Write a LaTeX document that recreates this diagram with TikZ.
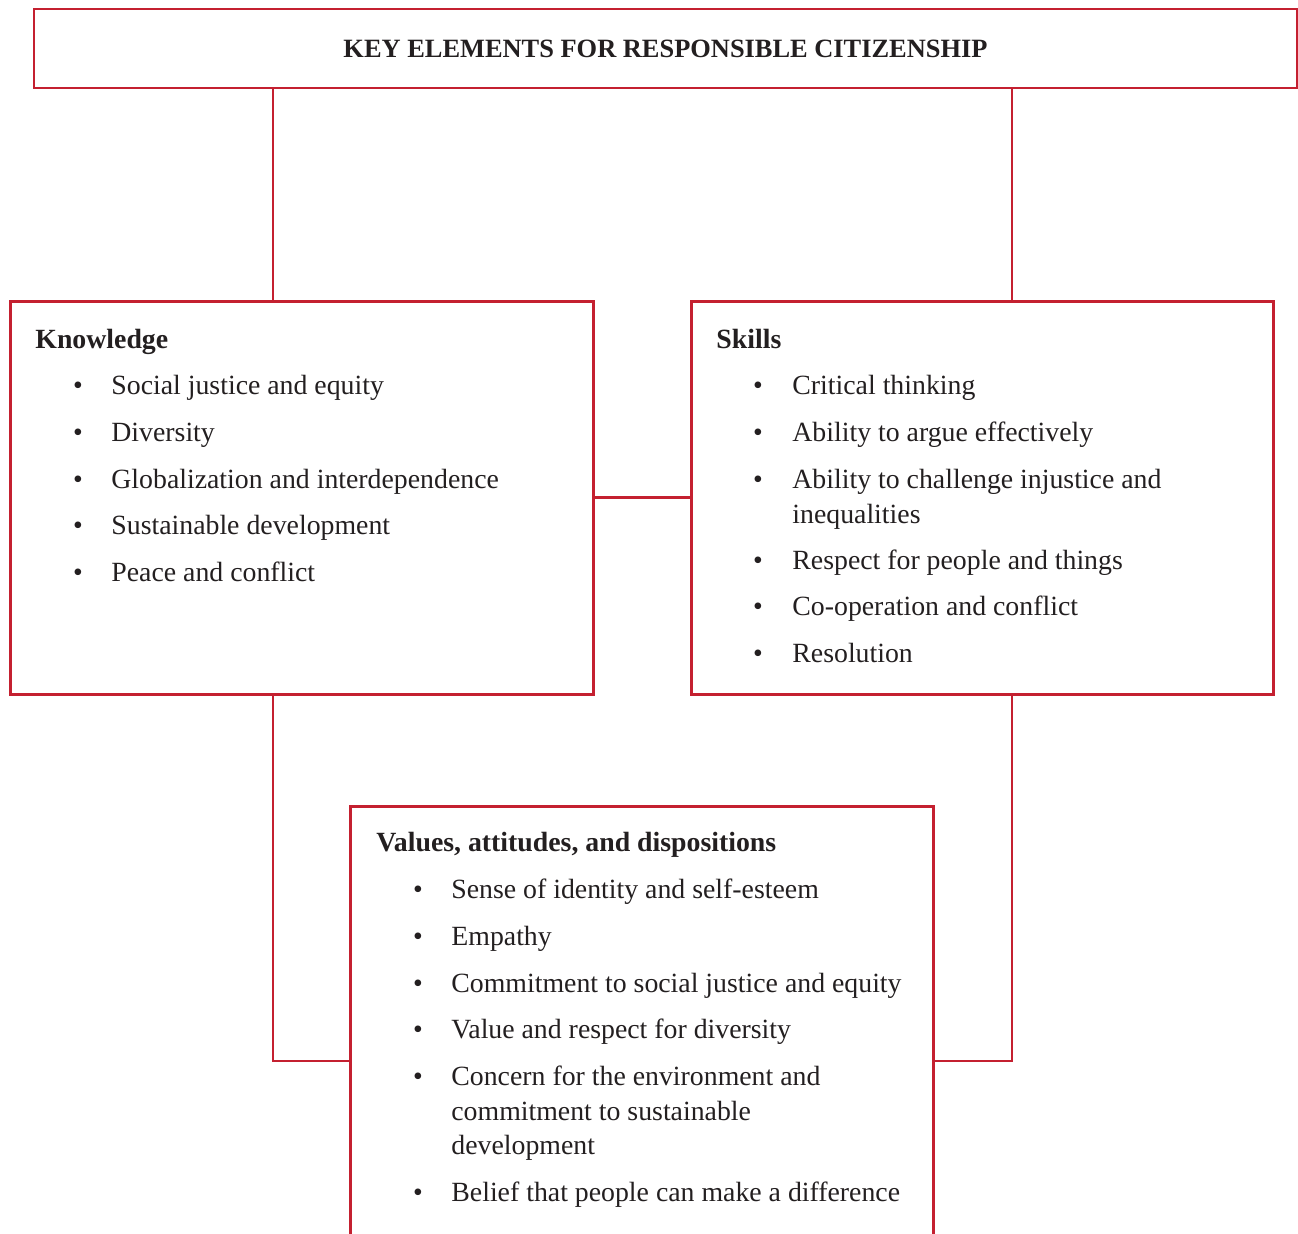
\documentclass[tikz,border=0pt]{standalone}
\usepackage{fontspec}
\setmainfont{Liberation Serif}
\usetikzlibrary{positioning,calc}
\definecolor{citred}{RGB}{196,32,48}
\definecolor{ink}{RGB}{35,31,32}

\tikzset{
  redbox/.style={draw=citred, line width=1.4pt, rectangle, inner sep=0pt},
  link/.style={draw=citred, line width=1.4pt},
  head/.style={anchor=base west, inner sep=0pt, text=ink, font=\fontsize{13.9}{17.25}\selectfont\bfseries},
  item/.style={anchor=base west, inner sep=0pt, text=ink, font=\fontsize{13.9}{17.25}\selectfont},
  bul/.style={anchor=base, inner sep=0pt, text=ink, font=\fontsize{13.9}{17.25}\selectfont},
}

\begin{document}
\begin{tikzpicture}[x=0.5pt, y=-0.5pt]
  \clip (0,0) rectangle (1298,1234);
  % boxes
  \node[redbox, minimum width=631.5pt, minimum height=39.5pt, text=ink,
        font=\fontsize{13.2}{16}\selectfont\bfseries] (title) at (665.5,48.5)
        {KEY ELEMENTS FOR RESPONSIBLE CITIZENSHIP};
  \node[redbox, anchor=north west, minimum width=291.5pt, minimum height=196.5pt] (know) at (9,300) {};
  \node[redbox, anchor=north west, minimum width=291pt, minimum height=196.5pt] (skills) at (690,300) {};
  \node[redbox, anchor=north west, minimum width=291.5pt, minimum height=260pt] (values) at (349,805) {};

  % knowledge
  \node[head] (khead) at ([shift={(26,49)}]know.north west) {Knowledge};
  \foreach \yy/\txt [count=\i] in {95/Social justice and equity, 142/Diversity,
      189/Globalization and interdependence, 235/Sustainable development, 282/Peace and conflict}
  {
    \node[bul] (kb\i) at ([shift={(69,\yy)}]know.north west) {\textbullet};
    \node[item] (ki\i) at ([shift={(102,\yy)}]know.north west) {\txt};
  }

  % skills
  \node[head] (shead) at ([shift={(26,49)}]skills.north west) {Skills};
  \foreach \yy/\txt [count=\i] in {95/Critical thinking, 142/Ability to argue effectively,
      189/Ability to challenge injustice and, 270/Respect for people and things,
      316/Co-operation and conflict, 363/Resolution}
  {
    \node[bul] (sb\i) at ([shift={(68,\yy)}]skills.north west) {\textbullet};
    \node[item] (si\i) at ([shift={(102,\yy)}]skills.north west) {\txt};
  }
  \node[item] (si3b) at ([yshift=-17.25pt]si3.base west) {inequalities};

  % values
  \node[head] (vhead) at ([shift={(27,47)}]values.north west) {Values, attitudes, and dispositions};
  \foreach \yy/\txt [count=\i] in {94/Sense of identity and self-esteem, 141/Empathy,
      188/Commitment to social justice and equity, 234/Value and respect for diversity,
      281/Concern for the environment and, 397/Belief that people can make a difference}
  {
    \node[bul] (vb\i) at ([shift={(69,\yy)}]values.north west) {\textbullet};
    \node[item] (vi\i) at ([shift={(102,\yy)}]values.north west) {\txt};
  }
  \node[item] (vi5b) at ([yshift=-17.25pt]vi5.base west) {commitment to sustainable};
  \node[item] (vi5c) at ([yshift=-17.25pt]vi5b.base west) {development};

  % connectors
  \coordinate (kt) at ([xshift=132pt]know.north west);
  \coordinate (st) at ([xshift=161pt]skills.north west);
  \coordinate (vl) at ([yshift=-128pt]values.north west);
  \coordinate (vr) at ([yshift=-128pt]values.north east);
  \draw[link] (kt) -- (kt |- title.south);
  \draw[link] (st) -- (st |- title.south);
  \draw[link] (know) -- (skills);
  \draw[link] (kt |- know.south) |- (vl);
  \draw[link] (st |- skills.south) |- (vr);
\end{tikzpicture}
\end{document}
